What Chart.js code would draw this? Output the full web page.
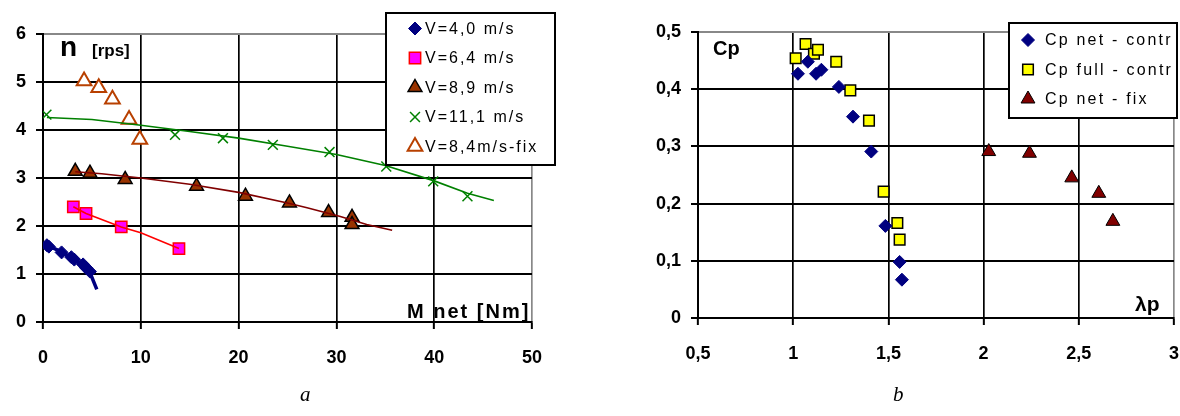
<!DOCTYPE html>
<html>
<head>
<meta charset="utf-8">
<script src="https://cdn.jsdelivr.net/npm/chart.js@4"></script>
<style>
  html, body { margin: 0; padding: 0; background: #fff; }
  #wrap { position: relative; width: 1180px; height: 416px; overflow: hidden; }
  .box { position: absolute; top: 0; height: 416px; }
  .cap { position: absolute; top: 382px; font: italic 21px "Liberation Serif", serif; color: #000; }
</style>
</head>
<body>
<div id="wrap">
  <div class="box" style="left:0;width:590px"><canvas id="left" width="590" height="416"></canvas></div>
  <div class="box" style="left:590px;width:610px"><canvas id="right" width="610" height="416"></canvas></div>
  <div class="cap" style="left:300px">a</div>
  <div class="cap" style="left:893px">b</div>
</div>
<script>
// --- chart a : n [rps] vs M net [Nm] ---
const v40M = [0.4, 0.6, 1.9, 2.9, 3.2, 4.1, 4.4, 4.8];
const v40N = [1.6, 1.57, 1.45, 1.35, 1.3, 1.2, 1.13, 1.05];
const v40TrendM = [0.4, 2.0, 3.0, 4.0, 4.8, 5.5];
const v40TrendN = [1.6, 1.45, 1.33, 1.2, 1.03, 0.68];

const v64M = [3.1, 4.4, 8.0, 13.9];
const v64N = [2.4, 2.26, 1.98, 1.53];
const v64TrendM = [3.1, 4.4, 8.0, 10.0, 13.9];
const v64TrendN = [2.4, 2.26, 1.98, 1.86, 1.53];

const v89M = [3.3, 4.8, 8.4, 15.7, 20.7, 25.2, 29.2, 31.6, 31.6];
const v89N = [3.14, 3.1, 2.97, 2.83, 2.62, 2.48, 2.28, 2.18, 2.03];
const v89TrendM = [3.3, 6.0, 10.0, 15.0, 20.0, 25.0, 27.0, 30.4, 33.1, 35.7];
const v89TrendN = [3.13, 3.09, 3.0, 2.87, 2.7, 2.48, 2.38, 2.2, 2.03, 1.91];

const v111M = [0.35, 13.5, 18.4, 23.5, 29.3, 35.1, 39.9, 43.4];
const v111N = [4.32, 3.9, 3.83, 3.69, 3.54, 3.24, 2.93, 2.62];
const v111TrendM = [0.4, 5.0, 10.0, 15.0, 20.0, 25.0, 30.0, 35.0, 40.0, 43.4, 46.1];
const v111TrendN = [4.26, 4.22, 4.1, 3.97, 3.83, 3.66, 3.49, 3.26, 2.94, 2.68, 2.53];

const v84fixM = [4.2, 5.7, 7.1, 8.8, 9.9];
const v84fixN = [5.02, 4.88, 4.64, 4.22, 3.8];

const leftLabels = ['V=4,0 m/s', 'V=6,4 m/s', 'V=8,9 m/s', 'V=11,1 m/s', 'V=8,4m/s-fix'];

// --- chart b : Cp vs lambda p ---
const cpNetContrL = [1.025, 1.077, 1.12, 1.148, 1.24, 1.314, 1.41, 1.484, 1.559, 1.571];
const cpNetContrC = [0.427, 0.448, 0.427, 0.434, 0.404, 0.352, 0.291, 0.161, 0.098, 0.067];
const cpFullContrL = [1.013, 1.065, 1.109, 1.13, 1.226, 1.30, 1.398, 1.475, 1.547, 1.559];
const cpFullContrC = [0.454, 0.479, 0.462, 0.469, 0.448, 0.398, 0.345, 0.221, 0.166, 0.137];
const cpNetFixL = [2.027, 2.241, 2.463, 2.605, 2.679];
const cpNetFixC = [0.291, 0.288, 0.245, 0.218, 0.169];

const rightLabels = ['Cp net - contr', 'Cp full - contr', 'Cp net - fix'];

const pts = (xs, ys) => xs.map((x, i) => ({ x: x, y: ys[i] }));
const TICK_FONT = { family: '"Liberation Sans", Arial, sans-serif', size: 18, weight: 'bold' };

// draw a marker (own helper, same shapes as chart points)
function drawMarker(ctx, m, x, y) {
  const r = m.r;
  ctx.save();
  ctx.beginPath();
  if (m.style === 'rectRot') {
    ctx.moveTo(x - r, y); ctx.lineTo(x, y - r); ctx.lineTo(x + r, y); ctx.lineTo(x, y + r); ctx.closePath();
  } else if (m.style === 'rect') {
    const s = Math.SQRT1_2 * r;
    ctx.rect(x - s, y - s, 2 * s, 2 * s);
  } else if (m.style === 'triangle') {
    const h = r * 0.866;
    ctx.moveTo(x, y - r); ctx.lineTo(x + h, y + r / 2); ctx.lineTo(x - h, y + r / 2); ctx.closePath();
  } else if (m.style === 'crossRot') {
    const s = Math.SQRT1_2 * r;
    ctx.moveTo(x - s, y - s); ctx.lineTo(x + s, y + s);
    ctx.moveTo(x + s, y - s); ctx.lineTo(x - s, y + s);
  }
  if (m.style !== 'crossRot') { ctx.fillStyle = m.fill; ctx.fill(); }
  ctx.lineWidth = m.lw; ctx.strokeStyle = m.stroke; ctx.stroke();
  ctx.restore();
}

// legend box + free texts inside the plots
const overlayPlugin = {
  id: 'overlay',
  afterDraw(chart, args, opts) {
    const ctx = chart.ctx;
    ctx.save();
    (opts.texts || []).forEach(t => {
      ctx.font = t.font;
      ctx.letterSpacing = t.spacing || '0px';
      ctx.textBaseline = 'alphabetic';
      ctx.fillStyle = '#000';
      ctx.fillText(t.text, t.x, t.y);
    });
    const lg = opts.legend;
    if (lg) {
      ctx.letterSpacing = '0px';
      ctx.fillStyle = '#fff';
      ctx.fillRect(lg.x, lg.y, lg.w, lg.h);
      ctx.lineWidth = 2; ctx.strokeStyle = '#000';
      ctx.strokeRect(lg.x, lg.y, lg.w, lg.h);
      ctx.font = lg.font;
      ctx.textBaseline = 'middle';
      lg.items.forEach((it, i) => {
        const cy = lg.rowY + i * lg.rowH;
        drawMarker(ctx, it.marker, lg.markX, cy);
        ctx.letterSpacing = lg.spacing;
        ctx.fillStyle = '#000';
        ctx.fillText(it.label, lg.textX, cy + 1);
        ctx.letterSpacing = '0px';
      });
    }
    ctx.restore();
  }
};

function axis(min, max, step, fmt, isY, lastGray, fitSize) {
  return {
    type: 'linear',
    min: min, max: max,
    afterFit(scale) {
      if (isY) { scale.width = fitSize; scale.paddingTop = 0; scale.paddingBottom = 0; }
      else { scale.height = fitSize; scale.paddingLeft = 0; scale.paddingRight = 0; }
    },
    border: { display: true, color: '#000', width: 2 },
    grid: {
      color: c => (c.tick && c.tick.value === lastGray) ? '#888' : '#000',
      lineWidth: isY ? 2 : 1.7,
      tickLength: 7,
      tickColor: '#000',
      tickWidth: 2
    },
    ticks: {
      stepSize: step,
      color: '#000',
      font: TICK_FONT,
      padding: isY ? 10 : 18,
      callback: fmt
    }
  };
}

const commaFmt = v => String(Math.round(v * 10) / 10).replace('.', ',');

// markers
const mV40 = { style: 'rectRot', r: 6.5, fill: '#000080', stroke: '#000080', lw: 1 };
const mV64 = { style: 'rect', r: 8, fill: '#FF00FF', stroke: '#FF0000', lw: 1.5 };
const mV89 = { style: 'triangle', r: 8, fill: '#993300', stroke: '#000', lw: 1.5 };
const mV111 = { style: 'crossRot', r: 7, fill: '#008000', stroke: '#008000', lw: 1.5 };
const mV84 = { style: 'triangle', r: 8.5, fill: '#fff', stroke: '#B84000', lw: 2 };

function markerSet(label, data, m) {
  return {
    label: label, data: data, showLine: false,
    pointStyle: m.style, pointRadius: m.r, pointHoverRadius: m.r,
    pointBackgroundColor: m.style === 'crossRot' ? m.stroke : m.fill,
    pointBorderColor: m.stroke, pointBorderWidth: m.lw
  };
}
function trendSet(data, color, width) {
  return {
    label: 'trend', data: data, showLine: true, pointRadius: 0,
    borderColor: color, borderWidth: width, fill: false, tension: 0
  };
}

const FONT = '"Liberation Sans", Arial, sans-serif';

new Chart(document.getElementById('left'), {
  type: 'scatter',
  data: {
    datasets: [
      trendSet(pts(v111TrendM, v111TrendN), '#008000', 1.6),
      trendSet(pts(v89TrendM, v89TrendN), '#800000', 1.6),
      trendSet(pts(v64TrendM, v64TrendN), '#FF0000', 1.6),
      trendSet(pts(v40TrendM, v40TrendN), '#000080', 3.5),
      markerSet(leftLabels[0], pts(v40M, v40N), mV40),
      markerSet(leftLabels[1], pts(v64M, v64N), mV64),
      markerSet(leftLabels[2], pts(v89M, v89N), mV89),
      markerSet(leftLabels[3], pts(v111M, v111N), mV111),
      markerSet(leftLabels[4], pts(v84fixM, v84fixN), mV84)
    ]
  },
  options: {
    responsive: false, animation: false,
    layout: { padding: { top: 34, right: 58, bottom: 34, left: 0 } },
    scales: {
      x: axis(0, 50, 10, v => v, false, 50, 60),
      y: axis(0, 6, 1, v => v, true, 6, 43)
    },
    plugins: {
      legend: { display: false }, tooltip: { enabled: false },
      overlay: {
        texts: [
          { text: 'n', x: 60, y: 56, font: 'bold 28px ' + FONT },
          { text: '[rps]', x: 92, y: 56, font: 'bold 17px ' + FONT },
          { text: 'M net [Nm]', x: 407, y: 318, spacing: '2px', font: 'bold 20px ' + FONT }
        ],
        legend: {
          x: 386, y: 13, w: 169, h: 152, font: '16px ' + FONT, spacing: '2px',
          markX: 415, textX: 425, rowY: 28.5, rowH: 29.5,
          items: [
            { label: leftLabels[0], marker: mV40 },
            { label: leftLabels[1], marker: mV64 },
            { label: leftLabels[2], marker: mV89 },
            { label: leftLabels[3], marker: mV111 },
            { label: leftLabels[4], marker: mV84 }
          ]
        }
      }
    }
  },
  plugins: [overlayPlugin]
});

const mNet = { style: 'rectRot', r: 6.5, fill: '#000080', stroke: '#000080', lw: 1 };
const mFull = { style: 'rect', r: 7.5, fill: '#FFFF00', stroke: '#000', lw: 1.5 };
const mFix = { style: 'triangle', r: 8, fill: '#800000', stroke: '#000', lw: 1 };

// right canvas is 610 wide (clipped at 1180) so the plot can run to x=1174
new Chart(document.getElementById('right'), {
  type: 'scatter',
  data: {
    datasets: [
      markerSet(rightLabels[0], pts(cpNetContrL, cpNetContrC), mNet),
      markerSet(rightLabels[1], pts(cpFullContrL, cpFullContrC), mFull),
      markerSet(rightLabels[2], pts(cpNetFixL, cpNetFixC), mFix)
    ]
  },
  options: {
    responsive: false, animation: false,
    layout: { padding: { top: 32, right: 26, bottom: 38, left: 0 } },
    scales: {
      x: axis(0.5, 3, 0.5, commaFmt, false, 3, 60),
      y: axis(0, 0.5, 0.1, commaFmt, true, 0.5, 108)
    },
    plugins: {
      legend: { display: false }, tooltip: { enabled: false },
      overlay: {
        texts: [
          { text: 'Cp', x: 713, y: 55, font: 'bold 20px ' + FONT },
          { text: 'λp', x: 1135, y: 311, font: 'bold 21px ' + FONT }
        ].map(t => Object.assign(t, { x: t.x - 590 })),
        legend: {
          x: 1009 - 590, y: 23, w: 168, h: 95, font: '16px ' + FONT, spacing: '2.2px',
          markX: 1028 - 590, textX: 1045 - 590, rowY: 40, rowH: 29.5,
          items: [
            { label: rightLabels[0], marker: mNet },
            { label: rightLabels[1], marker: mFull },
            { label: rightLabels[2], marker: mFix }
          ]
        }
      }
    }
  },
  plugins: [overlayPlugin]
});
</script>
</body>
</html>
